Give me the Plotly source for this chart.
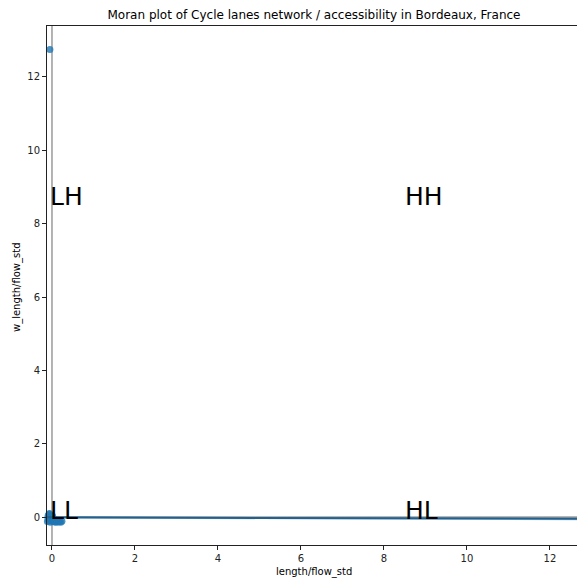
import plotly.graph_objects as go

# Data
x_vals = [-0.05, -0.11, -0.09, -0.08, -0.06, -0.04, -0.03, -0.02, 0.0, 0.02, 0.04, 0.06,
          0.08, 0.10, 0.12, 0.15, 0.18, 0.21, 0.24, -0.10, -0.07, 0.01, 0.05, 0.09]
y_vals = [12.75, -0.12, 0.05, -0.08, 0.10, -0.14, 0.02, -0.10, -0.05, -0.12, -0.09, -0.13,
          -0.11, -0.14, -0.10, -0.13, -0.12, -0.14, -0.11, -0.02, 0.08, 0.04, -0.06, -0.08]
reg_x = [-0.12, 12.7]
reg_y = [-0.005, -0.045]
band_lo = [-0.035, -0.085]
band_hi = [0.01, -0.03]
quadrant_labels = ["LH", "HH", "LL", "HL"]
label_x = [-0.09, 8.45, -0.09, 8.45]
label_y = [8.74, 8.74, 0.18, 0.18]
x_ticks = [0, 2, 4, 6, 8, 10, 12]
y_ticks = [0, 2, 4, 6, 8, 10, 12]

W, H = 577, 587
ml, mr, mt, mb = 47, 0, 26, 42
xr = [-0.12, -0.12 + (W - ml - mr) / 41.5]
yr = [-0.76, 13.39]

fig = go.Figure()
fig.add_trace(go.Scatter(x=reg_x + reg_x[::-1], y=band_hi + band_lo[::-1], fill="toself",
                         fillcolor="rgba(31,119,180,0.45)", line=dict(width=0),
                         mode="lines", hoverinfo="skip", showlegend=False))
fig.add_trace(go.Scatter(x=x_vals, y=y_vals, mode="markers", cliponaxis=False,
                         marker=dict(color="#1f77b4", size=7, opacity=0.8, line=dict(width=0)),
                         showlegend=False))
fig.add_trace(go.Scatter(x=reg_x, y=reg_y, mode="lines",
                         line=dict(color="#22618f", width=2), showlegend=False))

fig.add_shape(type="line", xref="x", yref="paper", x0=0, x1=0, y0=0, y1=1,
              line=dict(color="#a0a0a0", width=1.6), layer="below")
fig.add_shape(type="line", xref="paper", yref="y", x0=0, x1=1, y0=0, y1=0,
              line=dict(color="#a0a0a0", width=1.6), layer="below")

for t, lx, ly in zip(quadrant_labels, label_x, label_y):
    fig.add_annotation(x=lx, y=ly, text=t, showarrow=False, xanchor="left", yanchor="middle",
                       font=dict(family="DejaVu Sans", size=25, color="black"))

fig.add_annotation(xref="paper", yref="paper", x=(314 - ml) / (W - ml - mr),
                   y=(H - mb - 572) / (H - mt - mb), text="length/flow_std", showarrow=False,
                   xanchor="center", yanchor="middle",
                   font=dict(family="DejaVu Sans", size=10, color="black"))
fig.add_annotation(xref="paper", yref="paper", x=(17 - ml) / (W - ml - mr),
                   y=(H - mb - 287) / (H - mt - mb), text="w_length/flow_std", showarrow=False,
                   textangle=-90, xanchor="center", yanchor="middle",
                   font=dict(family="DejaVu Sans", size=10, color="black"))

fig.update_layout(
    width=W, height=H,
    margin=dict(l=ml, r=mr, t=mt, b=mb),
    plot_bgcolor="white", paper_bgcolor="white",
    title=dict(text="Moran plot of Cycle lanes network / accessibility in Bordeaux, France",
               x=(314 - ml) / (W - ml - mr), xref="paper", xanchor="center",
               y=1 - 15 / H, yanchor="middle",
               font=dict(family="DejaVu Sans", size=12, color="black")),
    font=dict(family="DejaVu Sans", size=10, color="#222"),
    showlegend=False,
)
fig.update_xaxes(range=xr, tickvals=x_ticks, ticks="outside", ticklen=4, tickwidth=1,
                 tickcolor="#222", showgrid=False, zeroline=False, showline=True,
                 linecolor="#222", linewidth=1, mirror=True,
                 tickfont=dict(family="DejaVu Sans", size=10, color="#222"))
fig.update_yaxes(range=yr, tickvals=y_ticks, ticks="outside", ticklen=4, tickwidth=1,
                 tickcolor="#222", showgrid=False, zeroline=False, showline=True,
                 linecolor="#222", linewidth=1, mirror=False,
                 tickfont=dict(family="DejaVu Sans", size=10, color="#222"))

fig.write_html("out.html")
